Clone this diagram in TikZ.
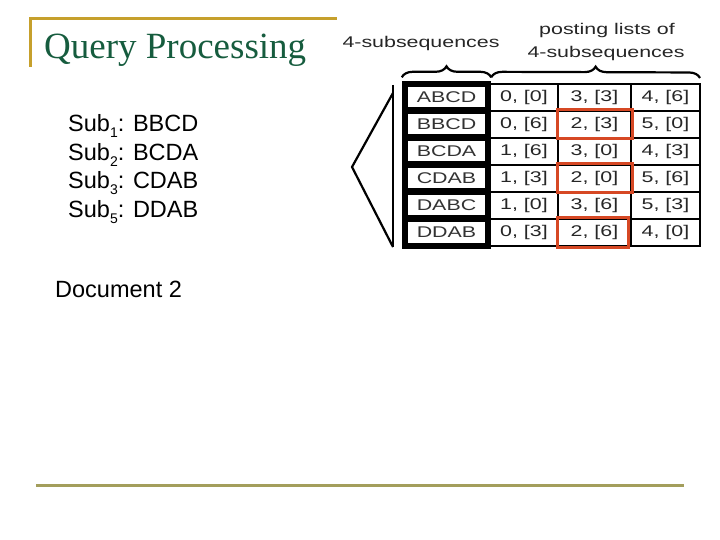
\documentclass[tikz,border=0pt]{standalone}
\usepackage{fontspec}
\setmainfont{Liberation Sans}
\newfontfamily\titlefont{Liberation Serif}
\newfontfamily\tablefont[FakeStretch=1.38]{Liberation Sans}
\usetikzlibrary{positioning, fit, backgrounds, decorations.pathreplacing}
\definecolor{titlegreen}{RGB}{22,92,62}
\definecolor{framegold}{RGB}{198,160,44}
\definecolor{ruleolive}{RGB}{163,158,92}
\definecolor{hitred}{RGB}{214,72,36}
\newcommand{\subidx}[1]{\raisebox{-6pt}{\fontsize{14}{14}\selectfont #1}}

\begin{document}
\begin{tikzpicture}[x=1pt, y=-1pt,
    subtext/.style={font=\fontsize{23.5}{28}\selectfont, inner sep=0pt, anchor=base west},
    headtext/.style={font=\tablefont\fontsize{15.5}{18}\selectfont, text=black!85, inner sep=0pt},
    keycell/.style={fill=white, minimum width=77pt, minimum height=20pt, inner sep=0pt, outer sep=0pt, font=\tablefont\fontsize{15.5}{18}\selectfont, text=black!80},
    listcell/.style={draw, line width=1.4pt, minimum height=27pt, inner sep=0pt, outer sep=0pt, font=\tablefont\fontsize{15.5}{18}\selectfont, text=black!85},
    hitbox/.style={draw=hitred, line width=3pt, inner sep=1pt},
    bracemark/.style={decorate, decoration={brace, amplitude=11pt}, line width=2.2pt}
]
\useasboundingbox (0,0) rectangle (720,540);

% Title with frame
\draw[framegold, line width=2.2pt] (30.5,67) -- (30.5,18.5) -- (337,18.5);
\node[font=\titlefont\fontsize{37}{40}\selectfont, text=titlegreen, anchor=base west, inner sep=0pt] (title) at (44,59) {Query Processing};

% Query subsequences
\node[subtext] (sub1) at (68,132) {Sub\subidx{1}: BBCD};
\node[subtext, below=28.5pt of sub1.base west, anchor=base west] (sub2) {Sub\subidx{2}: BCDA};
\node[subtext, below=28.5pt of sub2.base west, anchor=base west] (sub3) {Sub\subidx{3}: CDAB};
\node[subtext, below=28.5pt of sub3.base west, anchor=base west] (sub5) {Sub\subidx{5}: DDAB};
\node[subtext, below=80pt of sub5.base west, anchor=base west, xshift=-13pt] (doc) {Document 2};

% Index table
\foreach \key/\a/\b/\c/\d/\e/\f [count=\r] in {ABCD/0/0/3/3/4/6, BBCD/0/6/2/3/5/0, BCDA/1/6/3/0/4/3,
                                                CDAB/1/3/2/0/5/6, DABC/1/0/3/6/5/3, DDAB/0/3/2/6/4/0} {
  \node[keycell] (key\r) at (446.5, 70.5+27*\r) {\key};
  \node[listcell, minimum width=68pt, right=5pt of key\r] (list\r-1) {\a, [\b]};
  \node[listcell, minimum width=73pt, right=0pt of list\r-1] (list\r-2) {\c, [\d]};
  \node[listcell, minimum width=69pt, right=0pt of list\r-2] (list\r-3) {\e, [\f]};
}
\begin{scope}[on background layer]
  \node[fill=black, fit=(key1)(key6), inner sep=6pt] (keycol) {};
\end{scope}

% Matches
\coordinate (hit3corner) at ([xshift=-4pt]list6-2.south east);
\node[hitbox, fit=(list2-2)] (hit1) {};
\node[hitbox, fit=(list4-2)] (hit2) {};
\node[hitbox, fit=(list6-2.north west)(hit3corner)] (hit3) {};

% Braces and labels
\draw[bracemark] ([yshift=4pt]keycol.north west) -- ([yshift=4pt]keycol.north east);
\draw[bracemark] ([yshift=4pt]keycol.north east) -- ([yshift=6pt]list1-3.north east);
\node[headtext, anchor=base] (keylabel) at (421,48) {4-subsequences};
\node[headtext, anchor=base] (listlabel) at (607,35) {posting lists of};
\node[headtext, below=22.5pt of listlabel.base, anchor=base, xshift=-1pt] (listlabel2) {4-subsequences};

% Zoom marker
\coordinate (railtop) at (393,85);
\coordinate (railbot) at (393,247);
\coordinate (tiptop) at (393,93);
\coordinate (tip) at (352,167);
\draw[line width=1.8pt] (railtop) -- (railbot);
\draw[line width=2.2pt] (tiptop) -- (tip) -- (railbot);

% Bottom rule
\draw[ruleolive, line width=3pt] (36,485) -- (684,485);
\end{tikzpicture}
\end{document}
